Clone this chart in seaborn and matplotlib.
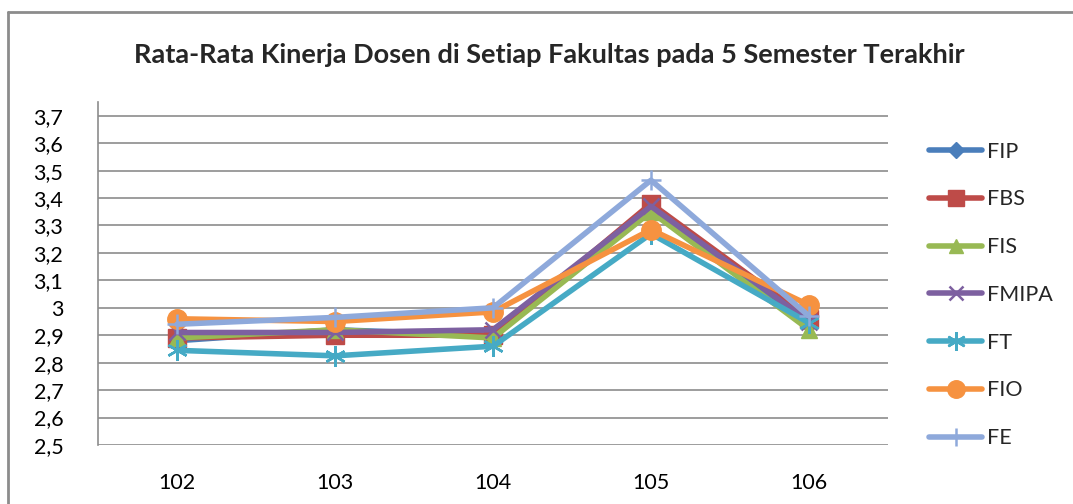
import matplotlib
matplotlib.use("Agg")
import matplotlib.pyplot as plt
import seaborn as sns
import pandas as pd
from matplotlib.lines import Line2D

semesters = ["102", "103", "104", "105", "106"]
fip   = [2.88, 2.92, 2.90, 3.36, 2.94]
fbs   = [2.89, 2.90, 2.90, 3.38, 2.96]
fis   = [2.89, 2.92, 2.89, 3.35, 2.92]
fmipa = [2.91, 2.91, 2.92, 3.37, 2.95]
ft    = [2.845, 2.825, 2.86, 3.27, 2.945]
fio   = [2.96, 2.95, 2.985, 3.285, 3.01]
fe    = [2.94, 2.965, 3.0, 3.465, 2.97]

series_names = ["FIP", "FBS", "FIS", "FMIPA", "FT", "FIO", "FE"]
series_vals = [fip, fbs, fis, fmipa, ft, fio, fe]
colors = ["#4A7EBB", "#BE4B48", "#98B954", "#7D60A0", "#46AAC5", "#F69240", "#8EA9DB"]
markers = ["D", "s", "^", "x", (6, 2, 0), "o", "+"]
msizes = [9, 13, 11, 11, 15, 14, 14]

rows = []
for name, vals in zip(series_names, series_vals):
    for i, (s, v) in enumerate(zip(semesters, vals)):
        rows.append({"Fakultas": name, "idx": i, "Semester": s, "Nilai": v})
df = pd.DataFrame(rows)

sns.set_style("white")
plt.rcParams["font.family"] = ["Lato", "DejaVu Sans"]

fig = plt.figure(figsize=(10.73, 5.04), dpi=100)
ax = fig.add_axes([98 / 1073, 59 / 504, 790 / 1073, 343 / 504])

def is_line_marker(m):
    return m in ("x", "+") or isinstance(m, tuple)

for name, c, m, ms in zip(series_names, colors, markers, msizes):
    sub = df[df["Fakultas"] == name]
    mew = 1.8 if is_line_marker(m) else 1
    sns.lineplot(data=sub, x="idx", y="Nilai", ax=ax, color=c, linewidth=4,
                 marker=m, markersize=ms, markeredgecolor=c, markerfacecolor=c,
                 markeredgewidth=mew, legend=False)

ax.set_xlim(-0.5, 4.5)
ax.set_ylim(2.5, 3.75)
ax.set_xticks(range(len(semesters)))
ax.set_xticklabels(semesters)
yt = [2.5 + 0.1 * i for i in range(13)]
ax.set_yticks(yt)
ax.set_yticklabels(["3" if abs(v - 3.0) < 1e-9 else f"{v:.1f}".replace(".", ",") for v in yt])
ax.tick_params(axis="both", labelsize=15.5, length=0, colors="black")
ax.tick_params(axis="x", pad=20)
ax.tick_params(axis="y", pad=25)
ax.yaxis.grid(True, color="#8C8C8C", linewidth=1.2)
ax.xaxis.grid(False)
ax.set_xlabel("")
ax.set_ylabel("")
for s in ["top", "right", "bottom"]:
    ax.spines[s].set_visible(False)
ax.spines["left"].set_color("#8C8C8C")
ax.spines["left"].set_linewidth(1.2)

handles = [Line2D([0], [0], color=c, linewidth=4, marker=m, markersize=ms * 0.9,
                  markerfacecolor=c, markeredgecolor=c,
                  markeredgewidth=1.8 if is_line_marker(m) else 1)
           for c, m, ms in zip(colors, markers, msizes)]
fig.legend(handles, series_names, loc="upper left", bbox_to_anchor=(920 / 1073, 1 - 133 / 504),
           frameon=False, fontsize=15.5, labelspacing=1.29, handlelength=2.5,
           handletextpad=0.2, borderaxespad=0)

fig.text(549 / 1073, 1 - 55 / 504, "Rata-Rata Kinerja Dosen di Setiap Fakultas pada 5 Semester Terakhir",
         ha="center", va="center", fontsize=19.5, fontweight="bold")

fig.add_artist(Line2D([8 / 1073, 1.0], [1 - 12 / 504, 1 - 12 / 504], transform=fig.transFigure,
                      color="#8C8C8C", linewidth=2))
fig.add_artist(Line2D([8 / 1073, 8 / 1073], [0, 1 - 12 / 504], transform=fig.transFigure,
                      color="#8C8C8C", linewidth=2))

fig.savefig("out.png", dpi=100)
